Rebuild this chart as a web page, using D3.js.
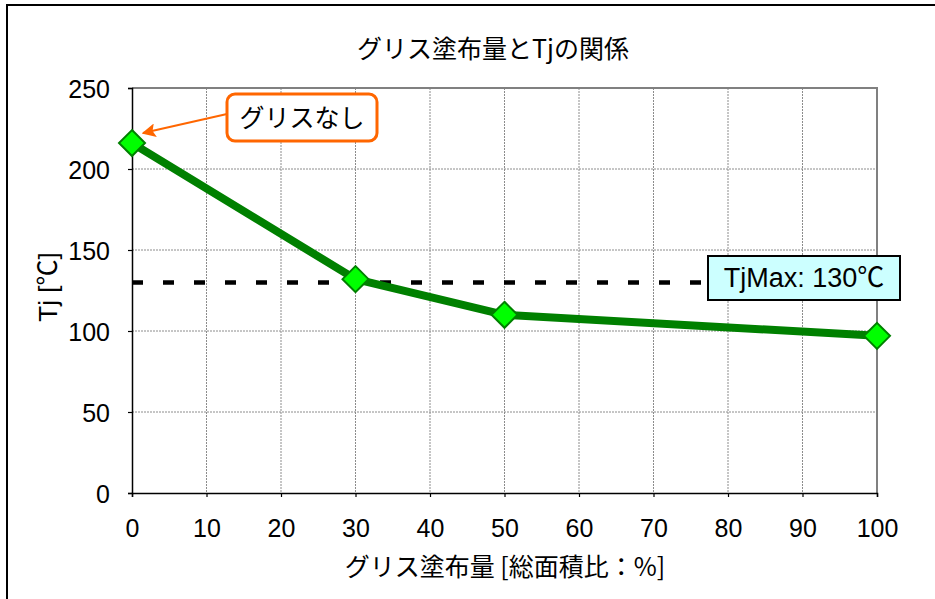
<!DOCTYPE html>
<html>
<head>
<meta charset="utf-8">
<script src="https://cdn.jsdelivr.net/npm/d3@7/dist/d3.min.js"></script>
<style>
  html, body { margin: 0; padding: 0; background: #fff; }
  svg { display: block; }
  .lat { font-family: "Liberation Sans", Arial, "Noto Sans CJK JP", sans-serif; }
  .jp  { font-family: "Noto Sans CJK JP", "Liberation Sans", sans-serif; }
</style>
</head>
<body>
<svg id="chart" width="935" height="599"></svg>
<script>
// Grease coverage vs junction temperature
const coverage = [0, 30, 50, 100];          // グリス塗布量 [%]
const tj = [216, 132, 110, 97];              // Tj [℃]
const tjMax = 130;
const xTicks = [0, 10, 20, 30, 40, 50, 60, 70, 80, 90, 100];
const yTicks = [0, 50, 100, 150, 200, 250];
const titleText = "グリス塗布量とTjの関係";
const xTitle = "グリス塗布量 [総面積比：%]";
const yTitle = "Tj [℃]";
const noteText = "グリスなし";
const maxText = "TjMax: 130℃";

const svg = d3.select("#chart");
const W = 935, H = 599;
const plot = { left: 132, right: 877, top: 88, bottom: 493 };

const x = d3.scaleLinear().domain([0, 100]).range([plot.left, plot.right]);
const y = d3.scaleLinear().domain([0, 250]).range([plot.bottom, plot.top]);

svg.append("rect").attr("width", W).attr("height", H).attr("fill", "#fff");

// outer chart frame (runs off the right and bottom edges)
svg.append("rect")
  .attr("x", 7).attr("y", 5).attr("width", W + 20).attr("height", H + 20)
  .attr("fill", "none").attr("stroke", "#000").attr("stroke-width", 2);

// gridlines
const grid = svg.append("g");
grid.selectAll("line.v").data(xTicks.filter(d => d > 0 && d < 100)).join("line")
  .attr("x1", d => x(d)).attr("x2", d => x(d))
  .attr("y1", plot.top).attr("y2", plot.bottom)
  .attr("stroke", "#8c8c8c").attr("stroke-width", 1).attr("stroke-dasharray", "2,1");
grid.selectAll("line.h").data(yTicks.filter(d => d > 0 && d < 250)).join("line")
  .attr("x1", plot.left).attr("x2", plot.right)
  .attr("y1", d => y(d)).attr("y2", d => y(d))
  .attr("stroke", "#8c8c8c").attr("stroke-width", 1).attr("stroke-dasharray", "2,1");

// plot area border (top and right)
svg.append("path")
  .attr("d", `M${plot.left},${plot.top}H${plot.right}V${plot.bottom}`)
  .attr("fill", "none").attr("stroke", "#808080").attr("stroke-width", 2);

// axes
const yAxis = d3.axisLeft(y).tickValues(yTicks).tickSize(4).tickPadding(18);
const xAxis = d3.axisBottom(x).tickValues(xTicks).tickSize(4).tickPadding(22);

const gy = svg.append("g").attr("transform", `translate(${plot.left},0)`).call(yAxis);
const gx = svg.append("g").attr("transform", `translate(0,${plot.bottom})`).call(xAxis);
[gx, gy].forEach(g => {
  g.select(".domain").attr("stroke", "#000").attr("stroke-width", 1.5);
  g.selectAll(".tick line").attr("stroke", "#000").attr("stroke-width", 1.2);
  g.selectAll(".tick text").attr("class", "lat").attr("font-size", 25).attr("fill", "#000");
});
gy.selectAll(".tick text").attr("dy", "0.36em");

// TjMax reference line
svg.append("line")
  .attr("x1", x(0)).attr("x2", x(100))
  .attr("y1", y(tjMax)).attr("y2", y(tjMax))
  .attr("stroke", "#000").attr("stroke-width", 4.5).attr("stroke-dasharray", "11,20");

// data series
const line = d3.line().x((d, i) => x(coverage[i])).y(d => y(d));
svg.append("path").datum(tj)
  .attr("d", line).attr("fill", "none")
  .attr("stroke", "#008000").attr("stroke-width", 8).attr("stroke-linejoin", "round");

const r = 13;
svg.selectAll("path.marker").data(tj).join("path")
  .attr("class", "marker")
  .attr("d", (d, i) => {
    const cx = x(coverage[i]), cy = y(d);
    return `M${cx},${cy - r}L${cx + r},${cy}L${cx},${cy + r}L${cx - r},${cy}Z`;
  })
  .attr("fill", "#00ff00").attr("stroke", "#008000").attr("stroke-width", 2);

// TjMax label box
const mb = { x: 708, y: 256, w: 192, h: 44 };
svg.append("rect").attr("x", mb.x).attr("y", mb.y).attr("width", mb.w).attr("height", mb.h)
  .attr("fill", "#ccffff").attr("stroke", "#000").attr("stroke-width", 2);
svg.append("text").attr("class", "lat")
  .attr("x", mb.x + mb.w / 2).attr("y", mb.y + mb.h / 2 + 9)
  .attr("text-anchor", "middle").attr("font-size", 27).attr("fill", "#000")
  .text(maxText);

// "no grease" callout with arrow to the first point
const orange = "#ff6600";
svg.append("defs").append("marker")
  .attr("id", "arr").attr("viewBox", "0 0 10 10").attr("refX", 9).attr("refY", 5)
  .attr("markerWidth", 7).attr("markerHeight", 7).attr("orient", "auto-start-reverse")
  .attr("markerUnits", "strokeWidth")
  .append("path").attr("d", "M0,0L10,5L0,10L2,5Z").attr("fill", orange);
svg.append("line")
  .attr("x1", 227).attr("y1", 114)
  .attr("x2", x(coverage[0]) + 11).attr("y2", y(tj[0]) - 10)
  .attr("stroke", orange).attr("stroke-width", 2).attr("marker-end", "url(#arr)");
const cb = { x: 227, y: 94, w: 150, h: 47 };
svg.append("rect").attr("x", cb.x).attr("y", cb.y).attr("width", cb.w).attr("height", cb.h)
  .attr("rx", 8).attr("fill", "#fff").attr("stroke", orange).attr("stroke-width", 3);
svg.append("text").attr("class", "jp")
  .attr("x", cb.x + cb.w / 2).attr("y", cb.y + cb.h / 2 + 9)
  .attr("text-anchor", "middle").attr("font-size", 25).attr("fill", "#000")
  .text(noteText);

// titles
svg.append("text").attr("class", "jp")
  .attr("x", 493).attr("y", 58).attr("text-anchor", "middle")
  .attr("font-size", 25).attr("fill", "#000").text(titleText);
svg.append("text").attr("class", "jp")
  .attr("x", 505).attr("y", 576).attr("text-anchor", "middle")
  .attr("font-size", 25).attr("fill", "#000").text(xTitle);
svg.append("text").attr("class", "lat")
  .attr("transform", "translate(57,287) rotate(-90)").attr("text-anchor", "middle")
  .attr("font-size", 26).attr("fill", "#000").text(yTitle);
</script>
</body>
</html>
